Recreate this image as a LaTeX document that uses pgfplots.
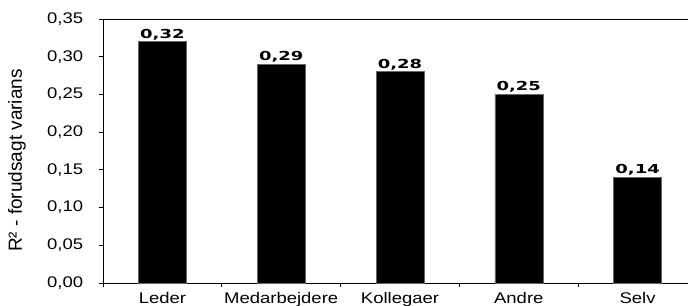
\documentclass[border=0pt]{standalone}
\usepackage{fontspec}
\setmainfont{Liberation Sans}
\newfontfamily\barfont{DejaVu Sans}
\usepackage{pgfplots}
\pgfplotsset{compat=1.18}
\begin{document}
\begin{tikzpicture}
\begin{axis}[
  at={(103bp,23bp)}, anchor=south west,
  scale only axis,
  width=594bp, height=264bp,
  xmin=-0.5, xmax=4.5,
  ymin=0, ymax=0.35,
  axis line style={black, line width=0.8bp},
  ybar, bar width=48bp,
  xtick={-0.5,0.5,1.5,2.5,3.5,4.5},
  x tick label as interval,
  xticklabels={Leder,Medarbejdere,Kollegaer,Andre,Selv},
  ytick={0,0.05,...,0.351},
  tick align=outside,
  xtick pos=left, ytick pos=left,
  major tick length=4bp,
  tick style={black, line width=0.8bp},
  /pgf/number format/assume math mode=true,
  yticklabel style={/pgf/number format/.cd, fixed, fixed zerofill, precision=2, use comma, /tikz/.cd,
     font=\fontsize{15.4bp}{18bp}\selectfont, xscale=1.2, inner sep=0pt, anchor=east, xshift=-13bp},
  xticklabel style={font=\fontsize{15.4bp}{18bp}\selectfont, xscale=1.2, inner sep=0pt, anchor=north, yshift=-5.5bp},
  ylabel={R² - forudsagt varians},
  every axis y label/.style={at={(axis description cs:-0.1448,0.464)}, rotate=90, anchor=center,
     font=\fontsize{19bp}{22bp}\selectfont},
  nodes near coords,
  nodes near coords style={/pgf/number format/.cd, fixed, fixed zerofill, precision=2, use comma, /tikz/.cd,
     font=\barfont\bfseries\fontsize{12.4bp}{14bp}\selectfont, xscale=1.45, anchor=base, inner sep=0pt, yshift=3.5bp},
  clip=false,
]
\addplot[fill=black, draw=black!60, line width=0.6bp] coordinates {(0,0.32) (1,0.29) (2,0.28) (3,0.25) (4,0.14)};
\end{axis}
\pgfresetboundingbox
\useasboundingbox (0,0) rectangle (688bp,306bp);
\end{tikzpicture}
\end{document}
